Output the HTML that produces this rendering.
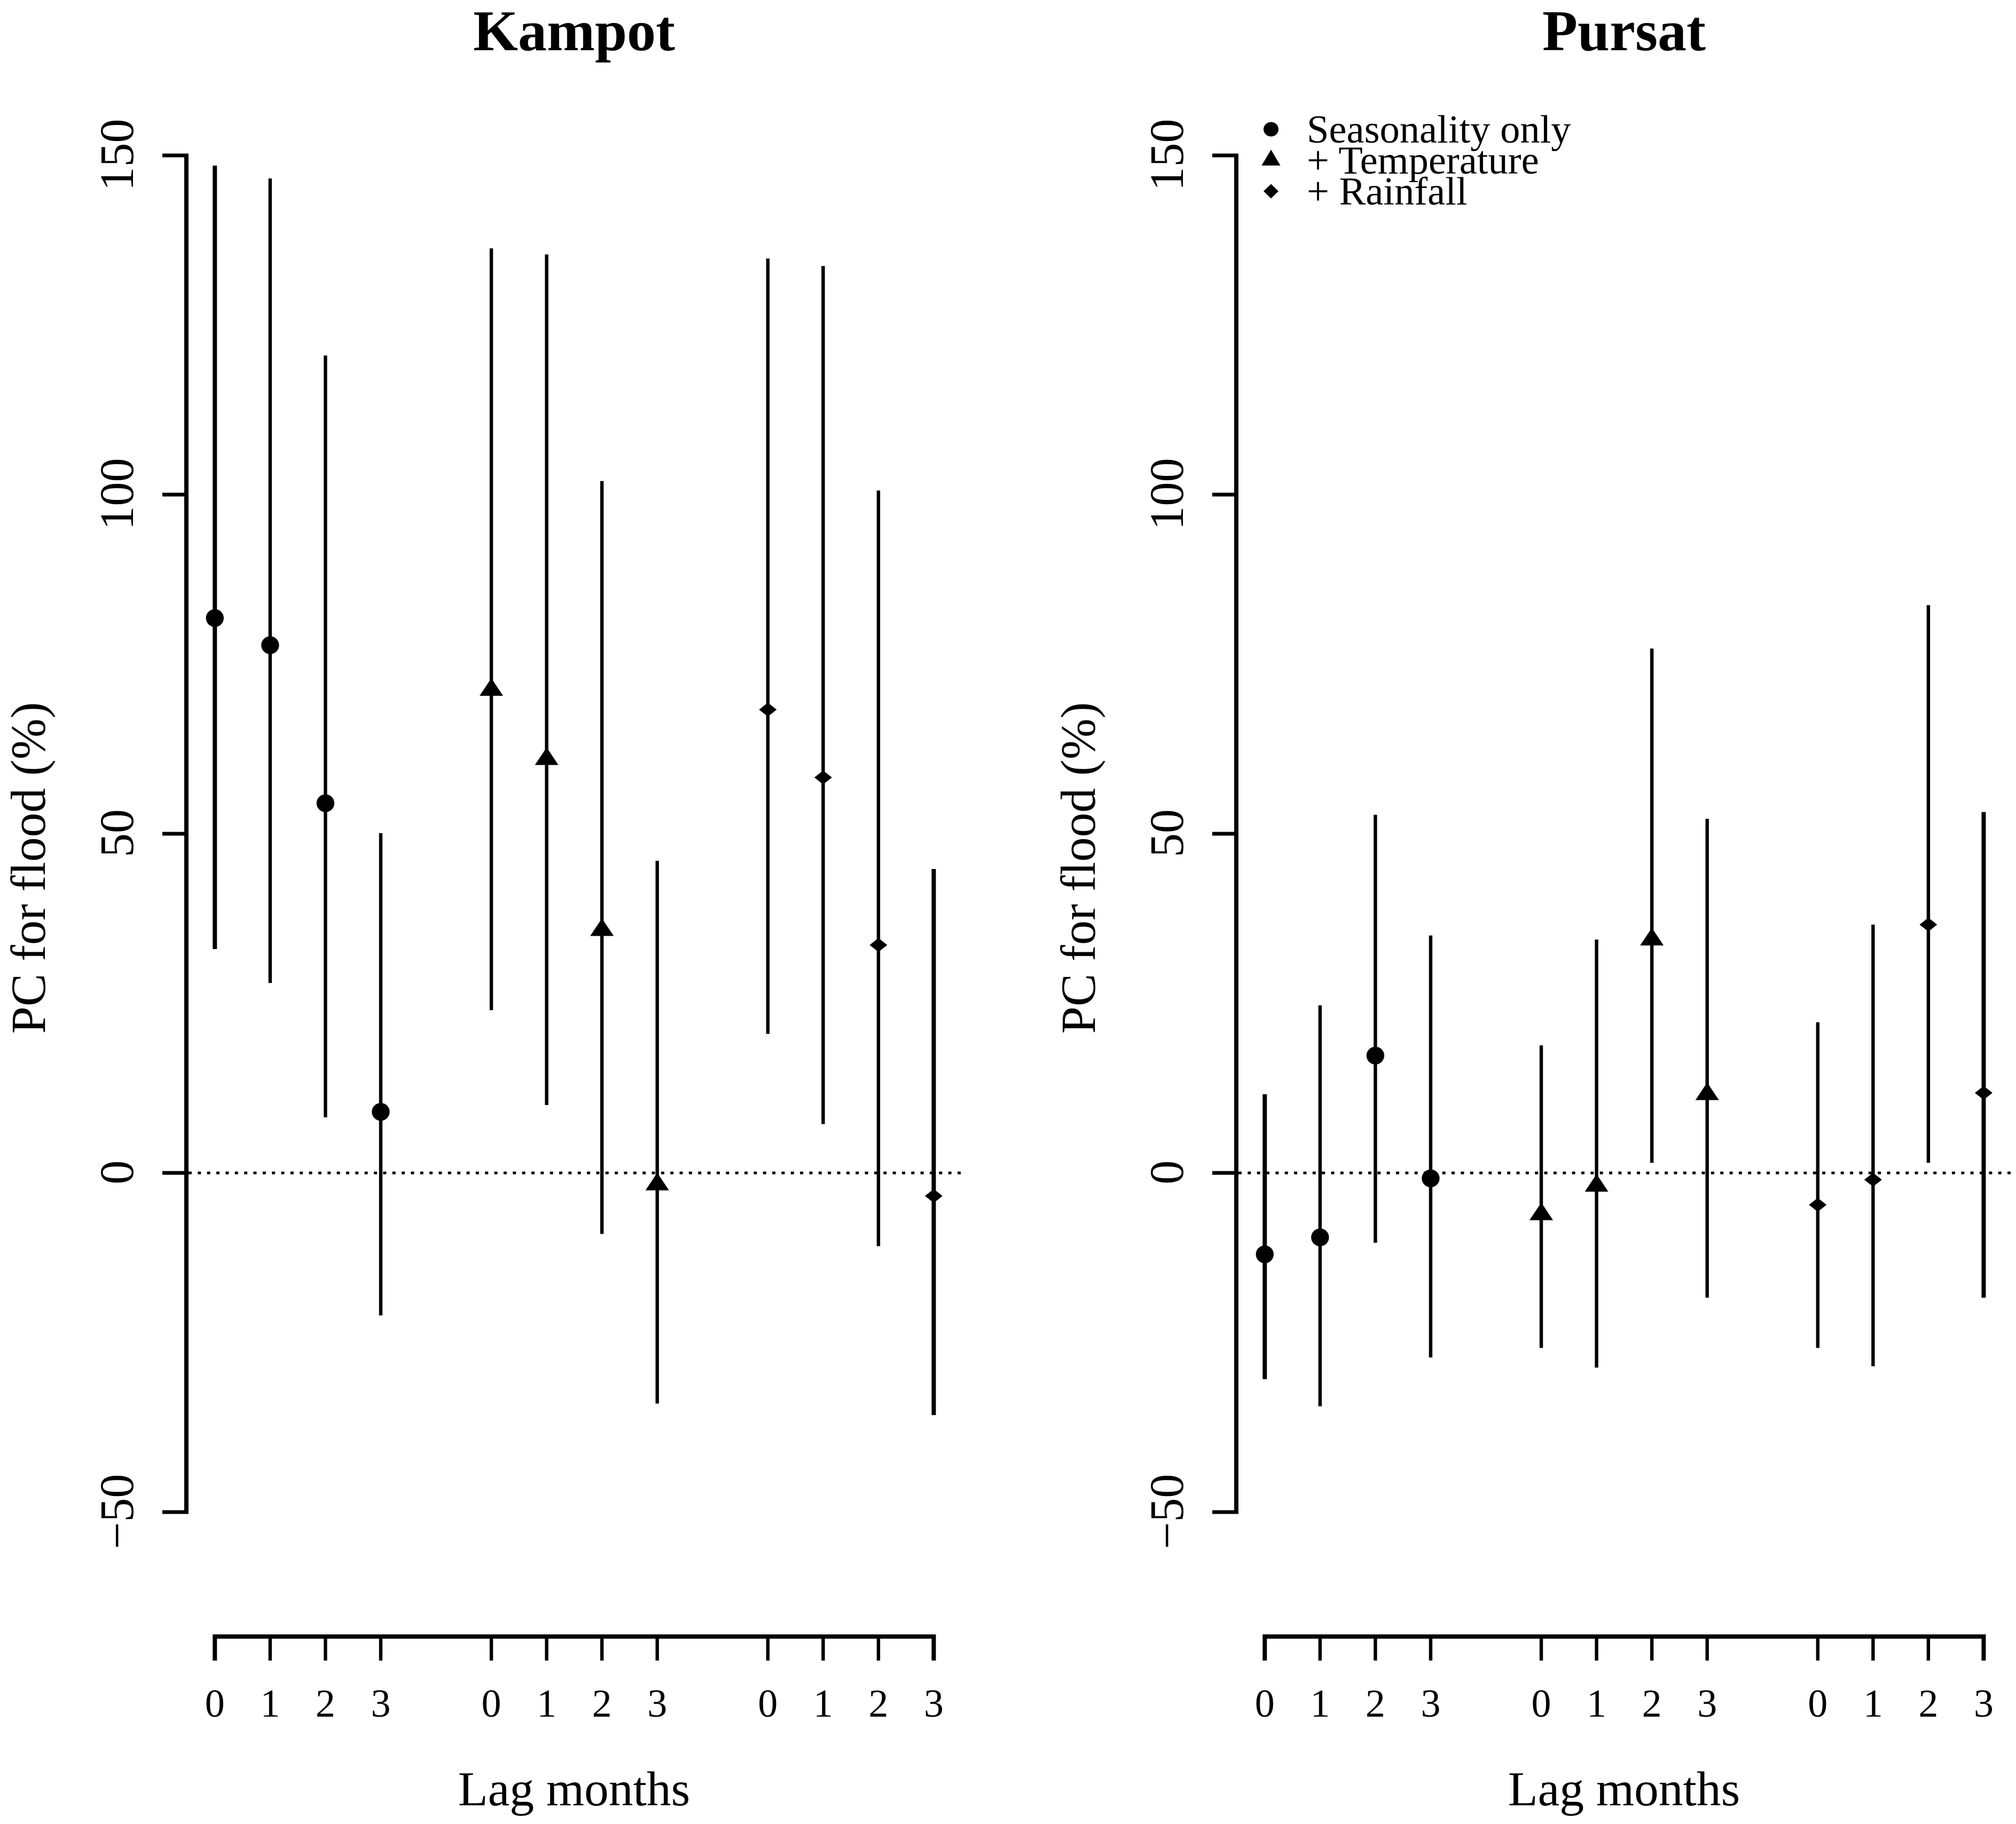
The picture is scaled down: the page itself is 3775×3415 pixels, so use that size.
<!DOCTYPE html>
<html lang="en">
<head>
<meta charset="utf-8">
<title>PC for flood by lag months</title>
<style>
html,body{margin:0;padding:0;background:#fff;}
svg{display:block;font-family:"Liberation Serif",serif;fill:#000;}
</style>
</head>
<body>
<svg id="chart" xmlns="http://www.w3.org/2000/svg" width="3775" height="3415" viewBox="0 0 3775 3415"></svg>
<script>
const panelNames = ['Kampot', 'Pursat'];
const modelNames = ['seasonality', 'temperature', 'rainfall'];
const lagLabels = ['0', '1', '2', '3'];
const yTickValues = [-50, 0, 50, 100, 150];

const kampotSeasonalityPoint = [81.8, 77.8, 54.5, 9];
const kampotSeasonalityHigh = [148.5, 146.6, 120.5, 50.1];
const kampotSeasonalityLow = [33, 28, 8.2, -21];
const kampotTemperaturePoint = [71.2, 61, 35.8, -1.7];
const kampotTemperatureHigh = [136.3, 135.4, 102, 46];
const kampotTemperatureLow = [24, 10, -9, -34];
const kampotRainfallPoint = [68.3, 58.3, 33.6, -3.4];
const kampotRainfallHigh = [134.8, 133.7, 100.6, 44.8];
const kampotRainfallLow = [20.5, 7.2, -10.8, -35.7];

const pursatSeasonalityPoint = [-12, -9.5, 17.3, -0.8];
const pursatSeasonalityHigh = [11.6, 24.7, 52.8, 35];
const pursatSeasonalityLow = [-30.4, -34.4, -10.3, -27.2];
const pursatTemperaturePoint = [-6.1, -1.9, 34.4, 11.6];
const pursatTemperatureHigh = [18.8, 34.4, 77.3, 52.2];
const pursatTemperatureLow = [-25.8, -28.7, 1.5, -18.4];
const pursatRainfallPoint = [-4.7, -1, 36.6, 11.8];
const pursatRainfallHigh = [22.2, 36.6, 83.7, 53.2];
const pursatRainfallLow = [-25.8, -28.5, 1.5, -18.4];

const legendLabels = ['Seasonality only', '+ Temperature', '+ Rainfall'];

const panelSeries = [
  [
    [kampotSeasonalityPoint, kampotSeasonalityHigh, kampotSeasonalityLow],
    [kampotTemperaturePoint, kampotTemperatureHigh, kampotTemperatureLow],
    [kampotRainfallPoint, kampotRainfallHigh, kampotRainfallLow]
  ],
  [
    [pursatSeasonalityPoint, pursatSeasonalityHigh, pursatSeasonalityLow],
    [pursatTemperaturePoint, pursatTemperatureHigh, pursatTemperatureLow],
    [pursatRainfallPoint, pursatRainfallHigh, pursatRainfallLow]
  ]
];

const NS = 'http://www.w3.org/2000/svg';
const svg = document.getElementById('chart');
const panelOffset = 1966;

function yScale(v) { return 2196 - v * 12.7; }
function xScale(panel, group, lag) {
  return 402.3 + panel * panelOffset + (group * 5 + lag) * 103.55;
}
function markWidth(group, lag) {
  const outer = (group === 0 && lag === 0) || (group === 2 && lag === 3);
  return outer ? 8 : 6.4;
}
function make(tag, attrs, parent) {
  const el = document.createElementNS(NS, tag);
  for (const k in attrs) el.setAttribute(k, attrs[k]);
  (parent || svg).appendChild(el);
  return el;
}
function drawMarker(kind, x, y, sx, sy, parent) {
  if (kind === 0) return make('ellipse', {cx: x, cy: y, rx: 16.7 * sx, ry: 16.7 * sy}, parent);
  if (kind === 1) return make('polygon', {points: [[x, y - 22 * sy], [x - 22 * sx, y + 11 * sy], [x + 22 * sx, y + 11 * sy]].join(' ')}, parent);
  return make('polygon', {points: [[x, y - 13 * sy], [x + 16.5 * sx, y], [x, y + 13 * sy], [x - 16.5 * sx, y]].join(' ')}, parent);
}

panelNames.forEach(function (name, p) {
  const off = p * panelOffset;
  const g = make('g', {});
  
  

  const title = make('text', {x: 1075 + off, y: 94, 'font-size': 108, 'font-weight': 'bold', 'text-anchor': 'middle'}, g);
  title.textContent = name;
  
  

  const ySpine = make('line', {x1: 349 + off, x2: 349 + off, y1: yScale(150) - 3.5, y2: yScale(-50) + 3.5, stroke: '#000', 'stroke-width': 8}, g);
  
  

  yTickValues.forEach(function (v) {
    const tick = make('line', {x1: 304 + off, x2: 349 + off, y1: yScale(v), y2: yScale(v), stroke: '#000', 'stroke-width': 7}, g);
    
    
    const tx = 249 + off;
    const ty = yScale(v) - 1;
    const label = make('text', {x: tx, y: ty, 'font-size': 90, 'text-anchor': 'middle', transform: 'rotate(-90 ' + tx + ' ' + ty + ')'}, g);
    label.textContent = v < 0 ? '\u2212' + Math.abs(v) : String(v);
    
    
  });

  const tty = 1625;
  const ttx = 84 + off;
  const yTitle = make('text', {x: ttx, y: tty, 'font-size': 92, 'text-anchor': 'middle', transform: 'rotate(-90 ' + ttx + ' ' + tty + ')'}, g);
  yTitle.textContent = 'PC for flood (%)';
  
  

  const zero = make('line', {x1: 353 + off, x2: 1799 + off, y1: yScale(0), y2: yScale(0), stroke: '#000', 'stroke-width': 5, 'stroke-dasharray': '6 11.35'}, g);
  
  

  const xSpine = make('line', {x1: xScale(p, 0, 0) - 4, x2: xScale(p, 2, 3) + 4, y1: 3064, y2: 3064, stroke: '#000', 'stroke-width': 8}, g);
  
  

  modelNames.forEach(function (model, m) {
    const [points, highs, lows] = panelSeries[p][m];
    lagLabels.forEach(function (lag, i) {
      const x = xScale(p, m, i);
      const w = markWidth(m, i);

      const xt = make('line', {x1: x, x2: x, y1: 3064, y2: 3109, stroke: '#000', 'stroke-width': w}, g);
      
      

      const xl = make('text', {x: x, y: 3214, 'font-size': 74, 'text-anchor': 'middle'}, g);
      xl.textContent = lag;
      
      

      const bar = make('line', {x1: x, x2: x, y1: yScale(highs[i]), y2: yScale(lows[i]), stroke: '#000', 'stroke-width': w}, g);
      
      

      const mk = drawMarker(m, x, yScale(points[i]), 1, 1, g);
      
      
    });
  });

  const xTitle = make('text', {x: 1075 + off, y: 3380, 'font-size': 91.5, 'text-anchor': 'middle'}, g);
  xTitle.textContent = 'Lag months';
  
  
});

const legendScaleX = [0.84, 0.8, 0.85];
const legendScaleY = [0.81, 0.9, 1.04];
const legend = make('g', {});


legendLabels.forEach(function (label, i) {
  const rowY = 242 + i * 58;
  const key = drawMarker(i, 2380, rowY, legendScaleX[i], legendScaleY[i], legend);
  
  
  const t = make('text', {x: 2447, y: rowY + 25, 'font-size': 74.5}, legend);
  t.textContent = label;
  
  
});
</script>
</body>
</html>
